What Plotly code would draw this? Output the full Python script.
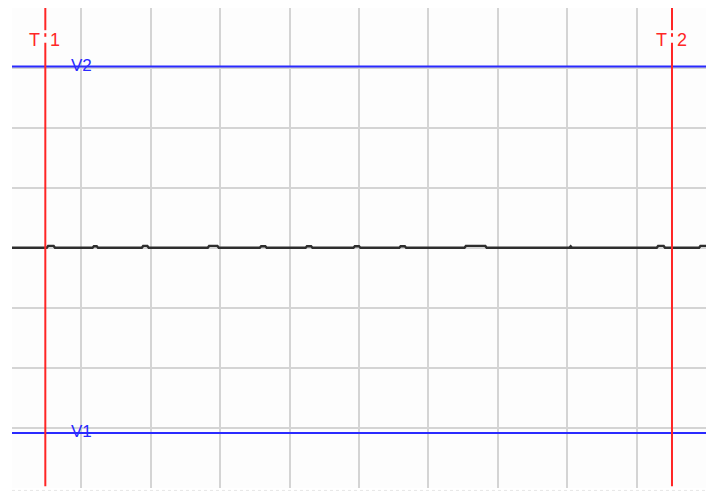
import plotly.graph_objects as go

# Signal trace (time in divisions, amplitude in divisions)
sig_t = [0.00, 0.50, 0.52, 0.60, 0.62, 1.16, 1.18, 1.22, 1.24, 1.87, 1.89, 1.95, 1.97,
         2.82, 2.84, 2.96, 2.98, 3.57, 3.59, 3.65, 3.67, 4.23, 4.25, 4.31, 4.33,
         4.92, 4.94, 5.00, 5.02, 5.58, 5.60, 5.66, 5.68, 6.52, 6.54, 6.82, 6.84,
         8.03, 8.05, 8.07, 9.29, 9.31, 9.39, 9.41, 9.90, 9.92, 10.00]
sig_v = [0.005, 0.005, 0.035, 0.035, 0.005, 0.005, 0.030, 0.030, 0.005, 0.005, 0.035, 0.035, 0.005,
         0.005, 0.035, 0.035, 0.005, 0.005, 0.030, 0.030, 0.005, 0.005, 0.030, 0.030, 0.005,
         0.005, 0.030, 0.030, 0.005, 0.005, 0.030, 0.030, 0.005, 0.005, 0.035, 0.035, 0.005,
         0.005, 0.030, 0.005, 0.005, 0.035, 0.035, 0.005, 0.005, 0.035, 0.035]

# Cursors
cursor_t_names = ["T 1", "T 2"]
cursor_t_pos = [0.48, 9.51]
cursor_v_names = ["V2", "V1"]
cursor_v_pos = [3.025, -3.083]

grid_x = [1, 2, 3, 4, 5, 6, 7, 8, 9]
grid_y = [-3, -2, -1, 0, 1, 2, 3]

RED = "#ff2626"
BLUE = "#2a2aff"

fig = go.Figure()
fig.add_trace(go.Scatter(x=sig_t, y=sig_v, mode="lines",
                         line=dict(color="#2e2e2e", width=2.4), hoverinfo="skip"))

shapes = []
annotations = []
# horizontal V cursors (full width)
for name, v in zip(cursor_v_names, cursor_v_pos):
    shapes.append(dict(type="line", xref="paper", yref="y", x0=0, x1=1, y0=v, y1=v,
                       line=dict(color=BLUE, width=2), layer="above"))
    annotations.append(dict(x=0.82, y=v, xref="x", yref="y", text=name, showarrow=False,
                            xanchor="left", yanchor="middle", yshift=1,
                            font=dict(family="Liberation Sans, Arial", size=17, color=BLUE)))
# vertical T cursors, interrupted around their labels
for name, t in zip(cursor_t_names, cursor_t_pos):
    for y0, y1 in [(4.0, 3.63), (3.58, 3.52), (3.42, -3.97)]:
        shapes.append(dict(type="line", xref="x", yref="y", x0=t, x1=t, y0=y0, y1=y1,
                           line=dict(color=RED, width=2), layer="above"))
    first, second = name.split(" ")
    annotations.append(dict(x=t, y=3.47, xref="x", yref="y", text=first, showarrow=False,
                            xanchor="right", yanchor="middle", xshift=-3,
                            font=dict(family="Liberation Sans, Arial", size=18, color=RED)))
    annotations.append(dict(x=t, y=3.47, xref="x", yref="y", text=second, showarrow=False,
                            xanchor="left", yanchor="middle", xshift=3,
                            font=dict(family="Liberation Sans, Arial", size=18, color=RED)))
# faint dotted frame on right and bottom
shapes.append(dict(type="line", xref="paper", yref="paper", x0=0, x1=1.005, y0=-0.005, y1=-0.005,
                   line=dict(color="#e6e6e6", width=1, dash="dot")))
shapes.append(dict(type="line", xref="paper", yref="paper", x0=1.005, x1=1.005, y0=-0.005, y1=1,
                   line=dict(color="#e6e6e6", width=1, dash="dot")))

fig.update_layout(
    width=706, height=490,
    margin=dict(l=3.5, r=7.5, t=0, b=10),
    paper_bgcolor="white", plot_bgcolor="#fdfdfd",
    showlegend=False,
    shapes=shapes, annotations=annotations,
    xaxis=dict(range=[0, 10], tickvals=grid_x, showticklabels=False, ticks="",
               showgrid=True, gridcolor="#d4d4d4", gridwidth=2, zeroline=False,
               showline=False, fixedrange=True),
    yaxis=dict(range=[-4, 4], tickvals=grid_y, showticklabels=False, ticks="",
               showgrid=True, gridcolor="#d4d4d4", gridwidth=2, zeroline=False,
               showline=False, fixedrange=True),
)

fig.write_html("out.html", config={"displayModeBar": False})
